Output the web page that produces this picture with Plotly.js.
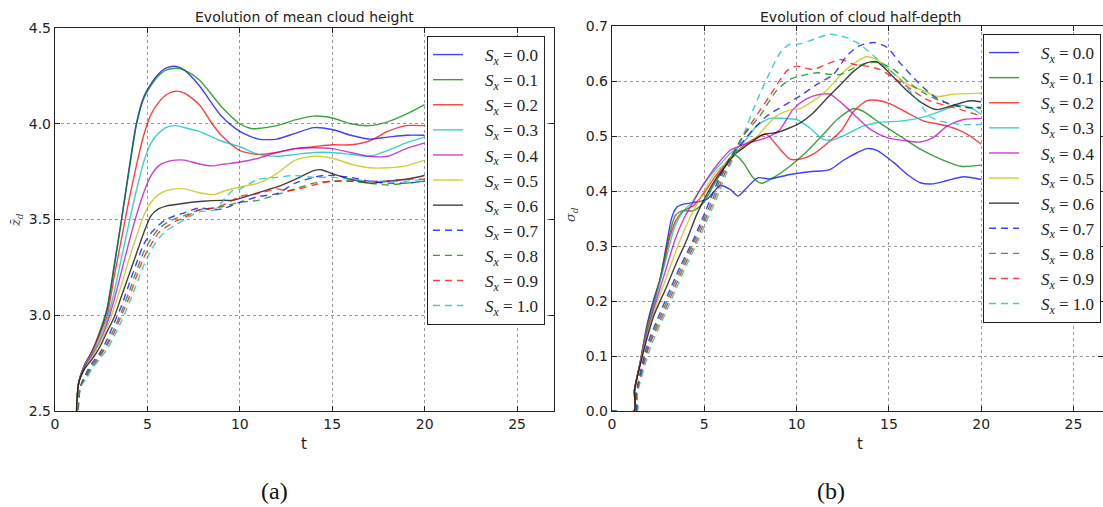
<!DOCTYPE html>
<html>
<head>
<meta charset="utf-8">
<script src="https://cdn.plot.ly/plotly-3.0.1.min.js"></script>
<style>html,body{margin:0;padding:0;background:#fff;}#chart{width:1103px;height:507px;}</style>
</head>
<body>
<div id="chart"></div>
<script>
// ---------- series labels ----------
const sxLabels = ['0.0','0.1','0.2','0.3','0.4','0.5','0.6','0.7','0.8','0.9','1.0'];

// ---------- (a) mean cloud height: time and value arrays per series ----------
const hT0 = [1.26,1.27,1.6,2.0,2.4,2.8,3.2,3.6,4.0,4.4,4.8,5.2,5.6,6.0,6.5,7.0,7.8,9.0,10,11,12,13,14,15,16,17,18,19,20];
const hV0 = [0,2.64,2.74,2.81,2.90,3.02,3.25,3.50,3.76,4.00,4.14,4.21,4.26,4.29,4.30,4.28,4.20,4.04,3.96,3.92,3.92,3.95,3.98,3.97,3.94,3.92,3.93,3.94,3.94];
const hT1 = [1.26,1.27,1.6,2.0,2.4,2.8,3.2,3.6,4.0,4.4,4.8,5.2,5.6,6.0,6.6,7.0,7.8,9.0,10,10.6,11,12,13,14,15,16,17,18,19,20];
const hV1 = [0,2.64,2.74,2.81,2.91,3.03,3.26,3.50,3.75,3.99,4.13,4.20,4.25,4.28,4.29,4.28,4.23,4.09,4.00,3.975,3.975,3.99,4.02,4.04,4.03,4.00,3.99,4.01,4.05,4.10];
const hT2 = [1.26,1.27,1.6,2.0,2.4,2.8,3.2,3.6,4.0,4.4,4.8,5.2,5.6,6.0,6.5,7.0,7.8,8.5,9.0,10,11,12,13,14,15,16,17,18,19,20];
const hV2 = [0,2.64,2.74,2.81,2.90,2.99,3.20,3.40,3.60,3.78,3.94,4.05,4.11,4.15,4.17,4.16,4.10,4.00,3.94,3.86,3.84,3.85,3.87,3.88,3.89,3.89,3.91,3.96,3.99,3.99];
const hT3 = [1.26,1.27,1.6,2.0,2.4,2.8,3.2,3.6,4.0,4.4,4.8,5.2,5.6,6.0,6.5,7.0,7.8,9.0,10,11,12,13,14,15,16,17,18,19,20];
const hV3 = [0,2.64,2.74,2.80,2.88,2.97,3.12,3.30,3.48,3.65,3.80,3.90,3.95,3.98,3.99,3.98,3.96,3.91,3.88,3.84,3.83,3.84,3.85,3.85,3.84,3.83,3.86,3.90,3.93];
const hT4 = [1.26,1.27,1.6,2.0,2.4,2.8,3.2,3.6,4.0,4.4,4.8,5.2,5.6,6.0,6.5,7.0,7.8,8.5,9.2,10,11,12,13,14,15,16,17,18,19,20];
const hV4 = [0,2.64,2.73,2.79,2.86,2.95,3.08,3.23,3.38,3.52,3.64,3.73,3.78,3.80,3.81,3.81,3.79,3.78,3.79,3.80,3.82,3.85,3.87,3.875,3.87,3.85,3.83,3.83,3.87,3.90];
const hT5 = [1.26,1.27,1.6,2.0,2.4,2.8,3.2,3.6,4.0,4.4,4.8,5.2,5.6,6.0,6.5,7.0,7.8,8.6,9.2,10,11,12,13,14,15,16,17,18,19,20];
const hV5 = [0,2.64,2.72,2.78,2.85,2.93,3.04,3.16,3.29,3.41,3.52,3.59,3.63,3.65,3.66,3.66,3.64,3.63,3.65,3.67,3.69,3.74,3.81,3.83,3.82,3.79,3.77,3.77,3.78,3.81];
const hT6 = [1.26,1.27,1.6,2.0,2.4,2.8,3.2,3.6,4.0,4.4,4.8,5.2,5.6,6.0,7.0,8.0,9.0,9.6,10,11,12,13,14,14.4,15,16,17,18,19,20];
const hV6 = [0,2.64,2.72,2.77,2.83,2.91,2.99,3.10,3.21,3.32,3.43,3.52,3.555,3.57,3.585,3.595,3.60,3.60,3.61,3.64,3.67,3.71,3.755,3.76,3.74,3.71,3.69,3.70,3.71,3.73];
const hT7 = [1.35,1.36,1.7,2.0,2.4,2.8,3.2,3.6,4.0,4.4,4.8,5.2,5.6,6.0,6.5,7.0,7.8,8.6,9.2,10,11,12,13,14,14.5,15,16,17,18,19,20];
const hV7 = [0,2.62,2.70,2.75,2.80,2.87,2.96,3.05,3.16,3.27,3.37,3.43,3.47,3.50,3.52,3.535,3.56,3.55,3.56,3.59,3.62,3.635,3.69,3.72,3.73,3.73,3.72,3.70,3.69,3.69,3.70];
const hT8 = [1.35,1.36,1.7,2.0,2.4,2.8,3.2,3.6,4.0,4.4,4.8,5.2,5.6,6.0,6.5,7.0,7.8,8.6,9.2,10,11,12,13,14,15,16,17,18,19,20];
const hV8 = [0,2.62,2.69,2.74,2.79,2.85,2.93,3.02,3.12,3.23,3.33,3.40,3.45,3.48,3.505,3.52,3.55,3.56,3.57,3.59,3.60,3.63,3.66,3.69,3.70,3.70,3.69,3.68,3.69,3.70];
const hT9 = [1.35,1.36,1.7,2.0,2.4,2.8,3.2,3.6,4.0,4.4,4.8,5.2,5.6,6.0,6.5,7.0,7.8,8.6,9.2,10,11,12,12.5,13,14,15,16,17,18,19,20];
const hV9 = [0,2.62,2.68,2.73,2.78,2.84,2.91,3.00,3.09,3.20,3.30,3.37,3.43,3.46,3.49,3.51,3.55,3.56,3.58,3.62,3.635,3.66,3.65,3.655,3.68,3.70,3.70,3.70,3.70,3.71,3.71];
const hT10 = [1.35,1.36,1.7,2.0,2.4,2.8,3.2,3.6,4.0,4.4,4.8,5.2,5.6,6.0,6.5,7.0,7.8,8.6,9.2,9.6,10,11,12,13,14,15,16,17,18,19,20];
const hV10 = [0,2.62,2.67,2.72,2.77,2.82,2.89,2.97,3.06,3.16,3.26,3.34,3.40,3.44,3.47,3.50,3.54,3.55,3.61,3.65,3.66,3.71,3.72,3.73,3.72,3.72,3.71,3.70,3.70,3.70,3.71];

// ---------- (b) cloud half-depth ----------
const dT0 = [0,1.2,1.22,1.52,1.88,2.25,2.6,2.97,3.24,3.5,3.88,4.6,5.15,5.5,5.87,6.4,6.83,7.3,7.9,8.55,9.64,10.7,11.8,12.5,13.3,13.8,14.35,15.25,16,16.7,17.4,18.15,19.05,20];
const dV0 = [0,0,0.038,0.087,0.154,0.202,0.239,0.306,0.352,0.370,0.376,0.380,0.385,0.398,0.41,0.403,0.391,0.406,0.424,0.422,0.430,0.435,0.439,0.455,0.470,0.477,0.474,0.452,0.430,0.415,0.413,0.419,0.426,0.421];
const dT1 = [0,1.2,1.22,1.52,1.88,2.25,2.6,3.06,3.42,3.79,4.4,4.96,5.5,6.05,6.4,6.7,7.1,7.65,8.1,8.73,9.64,10.5,11.45,12.2,13.1,13.6,14.5,15.6,16.7,17.8,18.9,20];
const dV1 = [0,0,0.038,0.087,0.15,0.199,0.24,0.312,0.355,0.364,0.364,0.379,0.41,0.44,0.459,0.465,0.452,0.424,0.414,0.424,0.445,0.470,0.503,0.530,0.550,0.545,0.524,0.50,0.476,0.458,0.445,0.447];
const dT2 = [0,1.2,1.22,1.52,1.88,2.25,2.79,3.15,3.5,3.88,4.4,4.96,5.5,6.05,6.6,7.46,8.0,8.37,9.1,9.64,10.2,10.9,11.6,12.4,13.1,13.8,14.35,15.1,16,16.9,17.8,18.7,19.4,20];
const dV2 = [0,0,0.038,0.087,0.148,0.193,0.263,0.318,0.349,0.364,0.373,0.395,0.422,0.446,0.468,0.490,0.500,0.503,0.476,0.458,0.458,0.467,0.485,0.509,0.545,0.564,0.565,0.558,0.542,0.527,0.521,0.512,0.50,0.485];
const dT3 = [0,1.2,1.22,1.52,1.88,2.25,2.97,3.42,3.88,4.33,4.8,5.33,5.87,6.4,7.1,7.83,8.55,9.28,10,10.7,11.45,12,12.7,13.6,14.5,15.6,16.7,17.8,18.7,19.4,20];
const dV3 = [0,0,0.038,0.085,0.145,0.19,0.282,0.337,0.364,0.379,0.404,0.428,0.449,0.468,0.487,0.518,0.532,0.532,0.530,0.515,0.494,0.493,0.503,0.518,0.525,0.527,0.533,0.545,0.556,0.552,0.539];
const dT4 = [0,1.2,1.22,1.52,1.88,2.25,2.97,3.42,3.88,4.33,4.8,5.33,5.87,6.4,7.0,7.46,8.37,9.1,9.8,10.5,11.3,11.8,12.5,13.3,14,14.9,16,16.7,17.4,18.15,19.05,20];
const dV4 = [0,0,0.038,0.085,0.14,0.184,0.263,0.312,0.349,0.376,0.404,0.431,0.455,0.474,0.483,0.488,0.497,0.512,0.548,0.567,0.576,0.576,0.558,0.533,0.512,0.497,0.491,0.489,0.497,0.518,0.530,0.532];
const dT5 = [0,1.2,1.22,1.52,1.88,2.25,2.97,3.5,4.06,4.6,5.15,5.69,6.23,6.7,7.1,7.6,8.2,8.9,9.64,10.2,10.9,11.6,12.5,13.3,13.8,14.35,15.1,16,16.9,17.6,18.5,20];
const dV5 = [0,0,0.038,0.085,0.135,0.178,0.245,0.294,0.340,0.376,0.41,0.437,0.452,0.471,0.48,0.49,0.512,0.536,0.547,0.55,0.564,0.582,0.615,0.636,0.644,0.639,0.618,0.594,0.582,0.572,0.576,0.578];
const dT6 = [0,1.2,1.22,1.52,1.88,2.25,2.97,3.5,4.06,4.6,5.15,5.69,6.23,6.7,7.1,7.6,8.2,8.9,9.64,10.2,10.9,11.6,12.4,13.1,13.8,14.35,15.1,16,16.9,17.6,18.5,19.4,20];
const dV6 = [0,0,0.038,0.083,0.13,0.172,0.227,0.27,0.312,0.358,0.395,0.425,0.449,0.468,0.478,0.49,0.503,0.506,0.515,0.524,0.542,0.567,0.594,0.618,0.633,0.635,0.612,0.582,0.558,0.548,0.556,0.564,0.562];
const dT7 = [0,1.29,1.3,1.88,2.6,3.15,3.7,4.42,4.96,5.33,5.87,6.4,7.1,7.6,8.37,9.28,10.2,11.1,12.0,12.7,13.4,14.2,14.9,15.6,16.5,17.4,18.3,19.2,20];
const dV7 = [0,0,0.03,0.117,0.178,0.221,0.263,0.312,0.355,0.385,0.428,0.46,0.49,0.51,0.536,0.555,0.573,0.594,0.612,0.645,0.664,0.670,0.661,0.633,0.60,0.573,0.558,0.552,0.552];
const dT8 = [0,1.32,1.33,1.95,2.7,3.25,3.8,4.5,5.05,5.45,5.95,6.5,7.1,8.0,8.9,9.64,10.2,11.1,11.8,12.4,13.1,13.8,14.5,15.25,16.2,17.0,18,18.9,20];
const dV8 = [0,0,0.03,0.117,0.178,0.221,0.263,0.312,0.355,0.385,0.428,0.465,0.50,0.536,0.582,0.603,0.609,0.615,0.612,0.612,0.624,0.633,0.633,0.621,0.594,0.576,0.561,0.553,0.550];
const dT9 = [0,1.34,1.35,2.0,2.8,3.35,3.9,4.6,5.15,5.55,6.05,6.6,7.1,7.8,8.55,9.46,10,10.9,11.6,12.4,13.1,13.8,14.5,15.25,16.2,17,18,18.9,20];
const dV9 = [0,0,0.03,0.117,0.178,0.221,0.263,0.312,0.355,0.385,0.428,0.465,0.50,0.536,0.573,0.618,0.627,0.621,0.630,0.639,0.630,0.627,0.621,0.606,0.585,0.567,0.556,0.548,0.536];
const dT10 = [0,1.36,1.37,2.1,2.9,3.45,4.0,4.7,5.25,5.65,6.15,6.7,7.1,7.65,8.37,9.18,9.64,10.1,10.7,11.8,12.7,13.4,14.2,14.9,15.6,16.5,17.2,17.8,18.9,20];
const dV10 = [0,0,0.03,0.117,0.178,0.221,0.263,0.312,0.355,0.385,0.428,0.47,0.50,0.548,0.603,0.655,0.667,0.667,0.673,0.685,0.679,0.667,0.645,0.624,0.603,0.567,0.536,0.527,0.521,0.521];

const heightT = [hT0,hT1,hT2,hT3,hT4,hT5,hT6,hT7,hT8,hT9,hT10];
const heightV = [hV0,hV1,hV2,hV3,hV4,hV5,hV6,hV7,hV8,hV9,hV10];
const depthT = [dT0,dT1,dT2,dT3,dT4,dT5,dT6,dT7,dT8,dT9,dT10];
const depthV = [dV0,dV1,dV2,dV3,dV4,dV5,dV6,dV7,dV8,dV9,dV10];

// ---------- styles ----------
const colors = ['rgba(0,0,255,0.75)','rgba(0,128,0,0.75)','rgba(255,0,0,0.75)','rgba(0,191,191,0.75)','rgba(191,0,191,0.75)','rgba(191,191,0,0.75)','rgba(0,0,0,0.75)','rgba(0,0,255,0.75)','rgba(0,128,0,0.75)','rgba(255,0,0,0.75)','rgba(0,191,191,0.75)'];
const dashes = ['solid','solid','solid','solid','solid','solid','solid','7px,5px','7px,5px','7px,5px','7px,5px'];

const traces = [];
function addSet(T, V, xa, ya, leg, prefix) {
  for (let i = 0; i < sxLabels.length; i++) {
    traces.push({
      type: 'scatter', mode: 'lines', x: T[i], y: V[i], xaxis: xa, yaxis: ya,
      name: '\u00a0\u00a0\u00a0\u00a0<i>S</i><sub><i>x</i></sub>\u00a0=\u00a0' + sxLabels[i],
      legend: leg, legendgroup: prefix + i,
      line: {color: colors[i], width: 1.4, dash: dashes[i], shape: 'spline', smoothing: 0.7},
      hoverinfo: 'skip'
    });
  }
}
addSet(heightT, heightV, 'x', 'y', 'legend', 'a');
addSet(depthT, depthV, 'x2', 'y2', 'legend2', 'b');

const W = 1103, H = 507;
const axFont = {family: 'DejaVu Sans, sans-serif', size: 14, color: '#222'};
const common = {showgrid: true, gridcolor: '#9a9a9a', griddash: 'dot', gridwidth: 1, zeroline: false,
  showline: true, mirror: 'ticks', linecolor: '#222', linewidth: 1.2, ticks: 'inside', ticklen: 5,
  tickcolor: '#222', tickfont: axFont};
const legCommon = {xanchor: 'left', yanchor: 'top', bgcolor: '#fff', bordercolor: '#222', borderwidth: 1,
  font: {family: 'Liberation Serif, serif', size: 17, color: '#222'}, traceorder: 'grouped', tracegroupgap: 0,
  itemwidth: 30};
const ann = (text, x, y, font, extra) => Object.assign({text: text, xref: 'paper', yref: 'paper', x: x / W, y: 1 - y / H,
  showarrow: false, xanchor: 'center', yanchor: 'middle', font: font}, extra || {});
const sans14 = {family: 'DejaVu Sans, sans-serif', size: 14, color: '#222'};
const sans15 = {family: 'DejaVu Sans, sans-serif', size: 15, color: '#222'};
const serifLab = {family: 'DejaVu Serif, serif', size: 13, color: '#444'};
const serifCap = {family: 'Liberation Serif, serif', size: 24, color: '#111'};

const layout = {
  width: W, height: H, margin: {l: 0, r: 0, t: 0, b: 0}, paper_bgcolor: '#fff', plot_bgcolor: '#fff',
  showlegend: true,
  xaxis: Object.assign({}, common, {domain: [55/W, 554/W], range: [0, 27], tick0: 0, dtick: 5, anchor: 'y'}),
  yaxis: Object.assign({}, common, {domain: [96/H, 479/H], range: [2.5, 4.5], dtick: 0.5, tickformat: '.1f', anchor: 'x'}),
  xaxis2: Object.assign({}, common, {domain: [612/W, 1], range: [0, 26.6], tick0: 0, dtick: 5, anchor: 'y2'}),
  yaxis2: Object.assign({}, common, {domain: [96/H, 481/H], range: [0, 0.7], dtick: 0.1, tickformat: '.1f', anchor: 'x2'}),
  legend: Object.assign({}, legCommon, {x: 427/W, y: 1 - 36/H}),
  legend2: Object.assign({}, legCommon, {x: 983/W, y: 1 - 34/H}),
  annotations: [
    ann('Evolution of mean cloud height', 304, 17, sans14),
    ann('Evolution of cloud half-depth', 860, 17, sans14),
    ann('t', 304, 444, sans15),
    ann('t', 860, 444, sans15),
    ann('<i>z\u0304</i><sub><i>d</i></sub>', 16, 220, serifLab, {textangle: -90}),
    ann('<i>σ</i><sub><i>d</i></sub>', 572, 215, serifLab, {textangle: -90}),
    ann('(a)', 274, 491, serifCap),
    ann('(b)', 831, 491, serifCap)
  ]
};

Plotly.newPlot('chart', traces, layout, {displayModeBar: false, staticPlot: true});
</script>
</body>
</html>
